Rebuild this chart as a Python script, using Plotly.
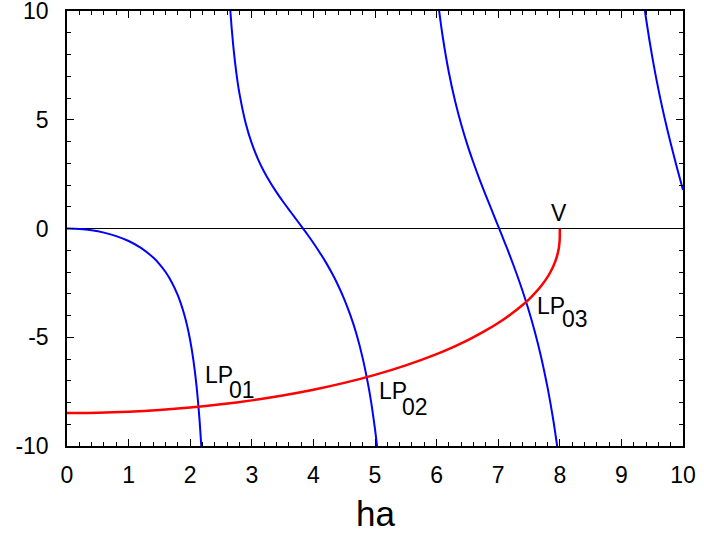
import plotly.graph_objects as go

# Blue branches: characteristic curve of LP0m modes
b1_x = [0.0, 0.2, 0.4, 0.6, 0.8, 1.0, 1.2, 1.4, 1.5, 1.6, 1.7, 1.8, 1.9, 1.95, 2.0, 2.05, 2.1, 2.15, 2.18]
b1_y = [0.0, -0.020, -0.082, -0.189, -0.349, -0.575, -0.891, -1.338, -1.635, -2.002, -2.468, -3.079, -3.919, -4.466, -5.151, -6.015, -7.163, -8.74, -10.01]

b2_x = [2.6, 2.65, 2.7, 2.75, 2.8, 2.9, 3.0, 3.1, 3.2, 3.3, 3.4, 3.5, 3.6, 3.7, 3.8, 3.9, 4.0, 4.1, 4.2, 4.3, 4.4, 4.5, 4.6, 4.7, 4.8, 4.9, 4.95, 5.0, 5.02, 5.04]
b2_y = [12.65, 10.08, 8.373, 7.137, 6.201, 4.854, 3.911, 3.193, 2.611, 2.115, 1.673, 1.265, 0.878, 0.499, 0.121, -0.264, -0.665, -1.090, -1.546, -2.048, -2.607, -3.245, -3.986, -4.860, -5.960, -7.353, -8.216, -9.223, -9.68, -10.17]

b3_x = [5.9, 6.0, 6.05, 6.1, 6.2, 6.3, 6.4, 6.5, 6.6, 6.7, 6.8, 6.9, 7.0, 7.1, 7.2, 7.3, 7.4, 7.5, 7.6, 7.7, 7.8, 7.85, 7.9, 7.95, 7.98]
b3_y = [14.27, 11.02, 9.82, 8.804, 7.159, 5.858, 4.777, 3.843, 3.011, 2.240, 1.513, 0.808, 0.110, -0.598, -1.325, -2.092, -2.911, -3.808, -4.809, -5.951, -7.293, -8.064, -8.908, -9.862, -10.49]

b4_x = [9.3, 9.35, 9.4, 9.5, 9.6, 9.7, 9.8, 9.9, 10.0]
b4_y = [11.82, 10.67, 9.655, 7.903, 6.408, 5.099, 3.915, 2.818, 1.769]

# Red curve: cladding side of the equation, V = 8
red_x = [0.0, 0.5, 1.0, 1.5, 2.0, 2.5, 3.0, 3.5, 4.0, 4.5, 5.0, 5.5, 6.0, 6.25, 6.5, 6.8, 7.0, 7.2, 7.4, 7.5, 7.6, 7.7, 7.8, 7.85, 7.9, 7.95, 7.98, 7.995, 7.9995, 8.0]
red_y = [-8.486, -8.470, -8.423, -8.343, -8.232, -8.085, -7.902, -7.678, -7.413, -7.098, -6.728, -6.291, -5.772, -5.473, -5.143, -4.686, -4.346, -3.959, -3.508, -3.257, -2.960, -2.630, -2.237, -1.989, -1.701, -1.315, -0.970, -0.650, -0.395, 0.0]

x_ticks = [0, 1, 2, 3, 4, 5, 6, 7, 8, 9, 10]
x_labels = ["0", "1", "2", "3", "4", "5", "6", "7", "8", "9", "10"]
y_ticks = [-10, -5, 0, 5, 10]
y_labels = ["-10", "-5", "0", "5", "10"]

FONT = "Liberation Sans, Arial, sans-serif"
BLUE = "#0000ff"
RED = "#ff0000"

fig = go.Figure()
for xs, ys in [(b1_x, b1_y), (b2_x, b2_y), (b3_x, b3_y), (b4_x, b4_y)]:
    fig.add_trace(go.Scatter(x=xs, y=ys, mode="lines",
                             line=dict(color=BLUE, width=2, shape="spline", smoothing=0.8),
                             showlegend=False, hoverinfo="skip"))
fig.add_trace(go.Scatter(x=red_x, y=red_y, mode="lines",
                         line=dict(color=RED, width=2.5, shape="spline", smoothing=0.6),
                         showlegend=False, hoverinfo="skip"))

labels = [
    ("LP", 2.21, -6.73), ("01", 2.60, -7.44),
    ("LP", 5.03, -7.46), ("02", 5.40, -8.20),
    ("LP", 7.60, -3.58), ("03", 8.00, -4.16),
]
for t, x, y in labels:
    fig.add_annotation(x=x, y=y, text=t, showarrow=False, xanchor="left",
                       yanchor="middle", font=dict(family=FONT, size=23, color="black"))
fig.add_annotation(x=7.99, y=0.71, text="V", showarrow=False, xanchor="center",
                   yanchor="middle", font=dict(family=FONT, size=23, color="black"))
fig.add_annotation(x=0.5, y=-0.156, xref="paper", yref="paper", text="ha",
                   showarrow=False, xanchor="center", yanchor="middle",
                   font=dict(family=FONT, size=35, color="black"))

axis_common = dict(showline=True, linecolor="black", linewidth=1.5, mirror="allticks",
                   ticks="inside", ticklen=7, tickwidth=1, tickcolor="black",
                   showgrid=False, automargin=False, ticklabeloverflow="allow",
                   tickfont=dict(family=FONT, size=23, color="black"))

fig.update_xaxes(range=[0, 10], tickvals=x_ticks, ticktext=x_labels, zeroline=False,
                 minor=dict(dtick=0.2, ticklen=4, ticks="inside", tickcolor="black", showgrid=False),
                 ticklabelstandoff=8,
                 **axis_common)
fig.update_yaxes(range=[-10, 10], tickvals=y_ticks, ticktext=y_labels, zeroline=True,
                 zerolinecolor="black", zerolinewidth=1,
                 minor=dict(dtick=1, ticklen=4, ticks="inside", tickcolor="black", showgrid=False),
                 ticklabelstandoff=12,
                 **axis_common)

fig.update_layout(width=704, height=535, margin=dict(l=67, r=21, t=11, b=89),
                  plot_bgcolor="white", paper_bgcolor="white",
                  font=dict(family=FONT, color="black"))

fig.write_html("out.html", config={"displayModeBar": False},
               post_script="document.body.style.margin='0';")
